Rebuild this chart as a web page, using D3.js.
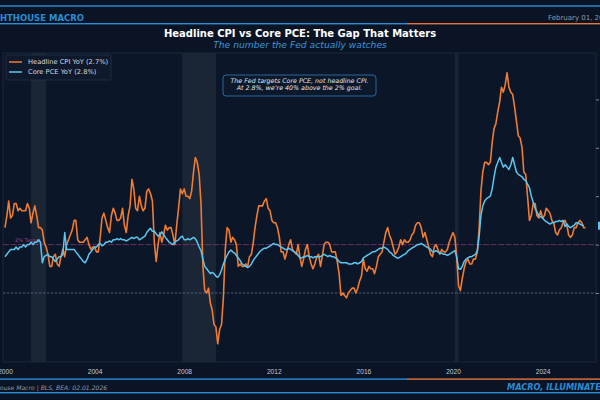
<!DOCTYPE html>
<html>
<head>
<meta charset="utf-8">
<script src="https://cdn.jsdelivr.net/npm/d3@7"></script>
<style>
html,body{margin:0;padding:0;background:#0a1424;overflow:hidden;}
svg{display:block;font-family:"DejaVu Sans",sans-serif;}
</style>
</head>
<body>
<svg id="chart" width="600" height="400"></svg>
<script>
// ---- data (monthly, starting Jan 2000) ----
const startYear = 2000;
const cpiYoY = [
  2.7,3.2,3.8,3.1,3.2,3.7,3.7,3.4,3.5,3.4,3.4,3.4,
  3.7,3.5,2.9,3.3,3.6,3.2,2.7,2.7,2.6,2.1,1.9,1.6,
  1.1,1.1,1.5,1.6,1.2,1.1,1.5,1.8,1.5,2.0,2.2,2.4,
  2.6,3.0,3.0,2.2,2.1,2.1,2.1,2.2,2.3,2.0,1.8,1.9,
  1.9,1.7,1.7,2.3,3.1,3.3,3.0,2.7,2.5,3.2,3.5,3.3,
  3.0,3.0,3.1,3.5,2.8,2.5,3.2,3.6,4.7,4.3,3.5,3.4,
  4.0,3.6,3.4,3.5,4.2,4.3,4.1,3.8,2.1,1.3,2.0,2.5,
  2.1,2.4,2.8,2.6,2.7,2.7,2.4,2.0,2.8,3.5,4.3,4.1,
  4.3,4.0,4.0,3.9,4.2,5.0,5.6,5.4,4.9,3.7,1.1,0.1,
  0.0,0.2,-0.4,-0.7,-1.3,-1.4,-2.1,-1.5,-1.3,-0.2,1.8,2.7,
  2.6,2.1,2.3,2.2,2.0,1.1,1.2,1.1,1.1,1.2,1.1,1.5,
  1.6,2.1,2.7,3.2,3.6,3.6,3.6,3.8,3.9,3.5,3.4,3.0,
  2.9,2.9,2.7,2.3,1.7,1.7,1.4,1.7,2.0,2.2,1.8,1.7,
  1.6,2.0,1.5,1.1,1.4,1.8,2.0,1.5,1.2,1.0,1.2,1.5,
  1.6,1.1,1.5,2.0,2.1,2.1,2.0,1.7,1.7,1.7,1.3,0.8,
  -0.1,0.0,-0.1,-0.2,0.0,0.1,0.2,0.2,0.0,0.2,0.5,0.7,
  1.4,1.0,0.9,1.1,1.0,1.0,0.8,1.1,1.5,1.6,1.7,2.1,
  2.5,2.7,2.4,2.2,1.9,1.6,1.7,1.9,2.2,2.0,2.2,2.1,
  2.1,2.2,2.4,2.5,2.8,2.9,2.9,2.7,2.3,2.5,2.2,1.9,
  1.6,1.5,1.9,2.0,1.8,1.6,1.8,1.7,1.7,1.8,2.1,2.3,
  2.5,2.3,1.5,0.3,0.1,0.6,1.0,1.3,1.4,1.2,1.2,1.4,
  1.4,1.7,2.6,4.2,5.0,5.4,5.4,5.3,5.4,6.2,6.8,7.0,
  7.5,7.9,8.5,8.3,8.6,9.1,8.5,8.3,8.2,7.7,7.1,6.5,
  6.4,6.0,5.0,4.9,4.0,3.0,3.2,3.7,3.7,3.2,3.1,3.4,
  3.1,3.2,3.5,3.4,3.3,3.0,2.9,2.5,2.4,2.6,2.7,2.9,
  3.0,2.8,2.4,2.3,2.4,2.7,2.7,2.9,3.0,2.9,2.7,2.7
];
const corePceYoY = [
  1.5,1.6,1.7,1.8,1.8,1.8,1.9,1.8,1.9,1.9,2.0,1.9,
  2.0,2.0,2.1,2.0,2.1,2.1,2.2,2.1,1.25,1.5,1.55,1.6,
  1.5,1.5,1.4,1.3,1.4,1.5,1.5,1.6,2.5,1.8,1.8,1.8,
  1.8,1.8,1.7,1.6,1.5,1.4,1.3,1.25,1.4,1.6,1.7,1.8,
  1.9,1.9,2.0,2.05,1.95,2.0,2.1,2.1,2.15,2.1,2.2,2.2,
  2.25,2.2,2.25,2.2,2.2,2.15,2.2,2.25,2.3,2.25,2.3,2.3,
  2.2,2.25,2.3,2.35,2.5,2.6,2.67,2.55,2.55,2.45,2.35,2.4,
  2.53,2.4,2.3,2.2,2.1,2.05,2.0,2.1,2.15,2.2,2.3,2.35,
  2.2,2.2,2.25,2.2,2.25,2.3,2.25,2.1,1.9,1.75,1.4,1.1,
  1.0,0.9,0.8,0.85,0.8,0.7,0.65,0.75,0.95,1.2,1.4,1.55,
  1.7,1.78,1.7,1.65,1.55,1.45,1.35,1.2,1.15,1.1,1.05,1.1,
  1.2,1.35,1.45,1.55,1.65,1.75,1.8,1.85,1.85,1.9,1.95,2.0,
  2.05,2.0,2.0,1.95,1.9,1.85,1.8,1.8,1.85,1.8,1.75,1.7,
  1.65,1.55,1.45,1.45,1.5,1.5,1.55,1.5,1.5,1.45,1.5,1.5,
  1.5,1.5,1.55,1.6,1.55,1.5,1.55,1.5,1.5,1.45,1.4,1.3,
  1.25,1.25,1.25,1.25,1.2,1.2,1.2,1.25,1.25,1.2,1.25,1.3,
  1.45,1.5,1.55,1.6,1.65,1.7,1.7,1.75,1.8,1.85,1.85,1.9,
  1.85,1.8,1.7,1.65,1.55,1.5,1.45,1.45,1.5,1.55,1.6,1.65,
  1.75,1.8,1.85,1.9,1.95,2.0,2.0,2.05,2.0,1.95,1.9,1.85,
  1.8,1.7,1.7,1.75,1.7,1.65,1.65,1.6,1.6,1.55,1.6,1.65,
  1.7,1.75,1.5,1.0,0.98,1.1,1.3,1.4,1.45,1.5,1.5,1.55,
  1.6,1.75,2.3,3.2,3.6,3.8,3.9,3.95,4.0,4.3,4.8,5.2,
  5.4,5.6,5.4,5.2,5.3,5.2,5.1,5.3,5.6,5.3,5.0,4.9,
  4.85,4.8,4.7,4.65,4.5,4.35,4.0,3.75,3.5,3.35,3.2,3.15,
  3.1,3.0,2.95,2.9,2.85,2.9,2.9,2.95,2.95,3.0,2.95,3.0,
  2.75,2.85,2.75,2.7,2.75,2.8,2.9,2.9,2.85,2.8,2.8
];
const recessions = [["2001-03-01","2001-11-01"],["2007-12-01","2009-06-01"],["2020-02-01","2020-04-01"]];
const xTickYears = [2000,2004,2008,2012,2016,2020,2024];
const yTicks = [0,2,4,6,8];
const targetRate = 2;
const seriesNames = ["Headline CPI YoY (2.7%)","Core PCE YoY (2.8%)"];
const annotationLines = ["The Fed targets Core PCE, not headline CPI.","At 2.8%, we\u2019re 40% above the 2% goal."];

// ---- colors ----
const C = {
  bg:"#0a1424", panel:"#0b1729", panelBorder:"#1b283a", recess:"#1a2535",
  blue:"#2b8cd6", orange:"#e8763a", cpi:"#f07b33", pce:"#5cc6ef",
  text:"#e8edf3", gray:"#8f99a9", tick:"#c3cad5", target:"#7d3574"
};

const svg = d3.select("#chart");
svg.append("rect").attr("width",600).attr("height",400).attr("fill",C.bg);

const toDate = (i) => new Date(startYear + Math.floor(i/12), i%12, 1);
const cpi = cpiYoY.map((v,i)=>({date:toDate(i), v}));
const pce = corePceYoY.map((v,i)=>({date:toDate(i), v}));

// panel
const P = {l:3, r:596, t:53, b:362};
const x = d3.scaleTime().domain([new Date(2000,0,1), new Date(2026,0,1)]).range([5, 5+26*22.4]);
const y = d3.scaleLinear().domain([0,8]).range([293, 293-8*24.2]);

svg.append("rect").attr("x",P.l).attr("y",P.t).attr("width",P.r-P.l).attr("height",P.b-P.t)
  .attr("fill",C.panel).attr("stroke",C.panelBorder).attr("stroke-width",1);

svg.append("clipPath").attr("id","pc").append("rect")
  .attr("x",P.l).attr("y",P.t).attr("width",P.r-P.l).attr("height",P.b-P.t);
const g = svg.append("g").attr("clip-path","url(#pc)");

g.selectAll("rect.rec").data(recessions).join("rect").attr("class","rec")
  .attr("x",d=>x(new Date(d[0]))).attr("width",d=>x(new Date(d[1]))-x(new Date(d[0])))
  .attr("y",P.t).attr("height",P.b-P.t).attr("fill",C.recess);

// zero and target lines
g.append("line").attr("x1",P.l).attr("x2",P.r).attr("y1",y(0)).attr("y2",y(0))
  .attr("stroke","#56657a").attr("stroke-width",0.9).attr("stroke-dasharray","2.5,1.5");
g.append("line").attr("x1",P.l).attr("x2",P.r).attr("y1",y(targetRate)).attr("y2",y(targetRate))
  .attr("stroke",C.target).attr("stroke-width",0.8).attr("stroke-dasharray","6,1.5");
g.append("text").attr("x",15).attr("y",y(targetRate)-3).attr("font-size",5).attr("fill","#9b3f8f")
  .text("2% Target");

const line = d3.line().x(d=>x(d.date)).y(d=>y(d.v));
g.append("path").datum(cpi).attr("d",line).attr("fill","none").attr("stroke",C.cpi)
  .attr("stroke-width",1.6).attr("stroke-linejoin","round");
g.append("path").datum(pce).attr("d",line).attr("fill","none").attr("stroke",C.pce)
  .attr("stroke-width",1.5).attr("stroke-linejoin","round");

// right y axis: only the tick marks fall inside the frame
const yAxis = d3.axisRight(y).tickValues(yTicks).tickSize(3).tickFormat("");
const ya = svg.append("g").attr("transform",`translate(${P.r},0)`).call(yAxis);
ya.select(".domain").remove();
ya.selectAll("line").attr("stroke","#7d8798");
// value tag at right edge
svg.append("rect").attr("x",598).attr("y",y(2.78)-4).attr("width",12).attr("height",8).attr("fill",C.pce);

// x axis
const xAxis = d3.axisBottom(x).tickValues(xTickYears.map(yy=>new Date(yy,0,1)))
  .tickFormat(d3.timeFormat("%Y")).tickSize(0).tickPadding(7);
const xa = svg.append("g").attr("transform",`translate(0,${P.b})`).call(xAxis);
xa.select(".domain").remove();
xa.selectAll("text").attr("fill",C.tick).attr("font-size",6.6);

// legend
const lg = svg.append("g");
lg.append("rect").attr("x",6).attr("y",55).attr("width",105).attr("height",25).attr("rx",1.5)
  .attr("fill","#0e1a2c").attr("stroke","#253347").attr("stroke-width",0.8);
[[C.cpi,62],[C.pce,72]].forEach((d,i)=>{
  lg.append("line").attr("x1",9).attr("x2",22).attr("y1",d[1]).attr("y2",d[1])
    .attr("stroke",d[0]).attr("stroke-width",1.5);
  lg.append("text").attr("x",28).attr("y",d[1]+2.4).attr("font-size",6.7).attr("fill","#d3d9e2")
    .text(seriesNames[i]);
});

// annotation
svg.append("rect").attr("x",223).attr("y",75).attr("width",153).attr("height",21).attr("rx",3)
  .attr("fill","#0c192b").attr("stroke","#2a6fa8").attr("stroke-width",0.9);
annotationLines.forEach((t,i)=>{
  svg.append("text").attr("x",299.5).attr("y",83.2+i*7.2).attr("text-anchor","middle")
    .attr("font-size",6.3).attr("font-style","italic").attr("fill","#e3e8ef").text(t);
});

// header
svg.append("rect").attr("x",0).attr("y",5.3).attr("width",600).attr("height",1.4).attr("fill",C.blue);
svg.append("text").attr("x",-15.6).attr("y",21).attr("font-size",8.5).attr("font-weight","bold")
  .attr("fill",C.blue).text("LIGHTHOUSE MACRO");
svg.append("text").attr("x",548).attr("y",20).attr("font-size",7).attr("fill",C.gray).text("February 01, 2026");
svg.append("rect").attr("x",0).attr("y",23).attr("width",407).attr("height",1.4).attr("fill",C.blue);
svg.append("rect").attr("x",407).attr("y",23).attr("width",193).attr("height",1.4).attr("fill",C.orange);
svg.append("text").attr("x",300).attr("y",36.5).attr("text-anchor","middle").attr("font-size",10)
  .attr("font-weight","bold").attr("fill","#ffffff").text("Headline CPI vs Core PCE: The Gap That Matters");
svg.append("text").attr("x",300).attr("y",47.5).attr("text-anchor","middle").attr("font-size",9.2)
  .attr("font-style","italic").attr("fill","#3a95d8").text("The number the Fed actually watches");

// footer
svg.append("rect").attr("x",0).attr("y",378.4).attr("width",407).attr("height",1.4).attr("fill",C.blue);
svg.append("rect").attr("x",407).attr("y",378.4).attr("width",193).attr("height",1.4).attr("fill",C.orange);
svg.append("text").attr("x",-19.4).attr("y",389.5).attr("font-size",6.1).attr("font-style","italic")
  .attr("fill",C.gray).text("Lighthouse Macro | BLS, BEA: 02.01.2026");
svg.append("text").attr("x",507).attr("y",390).attr("font-size",8.2).attr("font-style","italic")
  .attr("font-weight","bold").attr("fill",C.blue).text("MACRO, ILLUMINATED.");
svg.append("rect").attr("x",0).attr("y",392).attr("width",600).attr("height",1.4).attr("fill",C.blue);
</script>
</body>
</html>
